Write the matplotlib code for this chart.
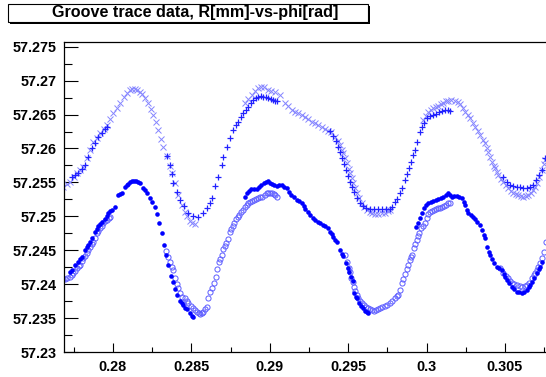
import matplotlib
matplotlib.use("Agg")
import matplotlib.pyplot as plt
from matplotlib.ticker import FixedLocator, FixedFormatter, MultipleLocator
from matplotlib.patches import Rectangle

title_text = "Groove trace data, R[mm]-vs-phi[rad]"

x_ticks = [0.28, 0.285, 0.29, 0.295, 0.30, 0.305]
x_tick_labels = ["0.28", "0.285", "0.29", "0.295", "0.3", "0.305"]
y_ticks = [57.23, 57.235, 57.24, 57.245, 57.25, 57.255, 57.26, 57.265, 57.27, 57.275]
y_tick_labels = ["57.23", "57.235", "57.24", "57.245", "57.25", "57.255",
                 "57.26", "57.265", "57.27", "57.275"]
x_range = [0.27685, 0.30762]
y_range = [57.23, 57.2757]

# upper trace, pass A (light 'x' markers)
phi_a_up = [0.27684, 0.27710, 0.27729, 0.27754, 0.27773, 0.27792, 0.27811, 0.27837, 0.27856, 0.27875,
            0.27901, 0.27920, 0.27945, 0.27964, 0.27983, 0.28003, 0.28028, 0.28047, 0.28073, 0.28092,
            0.28111, 0.28124, 0.28143, 0.28155, 0.28175, 0.28187, 0.28206, 0.28225, 0.28245, 0.28257,
            0.28276, 0.28289, 0.28308, 0.28321, 0.28346, 0.28366, 0.28378, 0.28397, 0.28417, 0.28442,
            0.28461, 0.28474, 0.28493, 0.28506, 0.28525,
            0.28843, 0.28862, 0.28888, 0.28907, 0.28926, 0.28945, 0.28964, 0.28990, 0.29009, 0.29034,
            0.29066, 0.29098, 0.29117, 0.29143, 0.29162, 0.29181, 0.29206, 0.29225, 0.29245, 0.29270,
            0.29289, 0.29308, 0.29334, 0.29353, 0.29372, 0.29391, 0.29417, 0.29436, 0.29448, 0.29461,
            0.29468, 0.29480, 0.29493, 0.29506, 0.29512, 0.29525, 0.29531, 0.29544, 0.29557, 0.29569,
            0.29589, 0.29601, 0.29620, 0.29639, 0.29652, 0.29671, 0.29690, 0.29716, 0.29735, 0.29754,
            0.29767,
            0.29977, 0.29996, 0.30009, 0.30028, 0.30041, 0.30060, 0.30073, 0.30092, 0.30104, 0.30124,
            0.30136, 0.30155, 0.30181, 0.30200, 0.30213, 0.30232, 0.30245, 0.30264, 0.30276, 0.30296,
            0.30308, 0.30327, 0.30340, 0.30359, 0.30372, 0.30385, 0.30391, 0.30404, 0.30417, 0.30429,
            0.30436, 0.30448, 0.30455, 0.30474, 0.30487, 0.30506, 0.30518, 0.30538, 0.30550, 0.30569,
            0.30582, 0.30601, 0.30614, 0.30633, 0.30646, 0.30665, 0.30678, 0.30690, 0.30703, 0.30716,
            0.30735, 0.30748, 0.30754]
r_a_up = [57.2543, 57.2548, 57.2551, 57.2558, 57.2564, 57.2568, 57.2573, 57.2586, 57.2598, 57.2610,
          57.2616, 57.2623, 57.2629, 57.2635, 57.2644, 57.2653, 57.2660, 57.2667, 57.2676, 57.2682,
          57.2686, 57.2688, 57.2688, 57.2686, 57.2684, 57.2681, 57.2675, 57.2667, 57.2658, 57.2650,
          57.2639, 57.2627, 57.2614, 57.2602, 57.2589, 57.2574, 57.2564, 57.2549, 57.2532, 57.2517,
          57.2507, 57.2501, 57.2493, 57.2490, 57.2489,
          57.2667, 57.2673, 57.2679, 57.2685, 57.2689, 57.2691, 57.2691, 57.2686, 57.2685, 57.2684,
          57.2679, 57.2667, 57.2663, 57.2657, 57.2654, 57.2653, 57.2650, 57.2647, 57.2644, 57.2639,
          57.2638, 57.2635, 57.2632, 57.2629, 57.2626, 57.2625, 57.2617, 57.2611, 57.2605, 57.2598,
          57.2594, 57.2586, 57.2579, 57.2570, 57.2564, 57.2557, 57.2549, 57.2542, 57.2535, 57.2527,
          57.2520, 57.2514, 57.2509, 57.2507, 57.2505, 57.2504, 57.2504, 57.2505, 57.2505, 57.2508,
          57.2509,
          57.2642, 57.2648, 57.2654, 57.2657, 57.2660, 57.2661, 57.2663, 57.2666, 57.2667, 57.2670,
          57.2670, 57.2672, 57.2670, 57.2669, 57.2666, 57.2660, 57.2654, 57.2650, 57.2645, 57.2638,
          57.2632, 57.2626, 57.2620, 57.2613, 57.2608, 57.2601, 57.2595, 57.2588, 57.2580, 57.2574,
          57.2571, 57.2566, 57.2561, 57.2555, 57.2551, 57.2546, 57.2542, 57.2537, 57.2535, 57.2533,
          57.2532, 57.2530, 57.2529, 57.2530, 57.2532, 57.2535, 57.2539, 57.2543, 57.2549, 57.2558,
          57.2568, 57.2577, 57.2583]

# upper trace, pass B ('+' markers)
phi_b_up = [0.27741, 0.27761, 0.27780, 0.27805, 0.27824, 0.27843, 0.27869, 0.27888, 0.27907, 0.27932,
            0.27952, 0.27964,
            0.28346, 0.28366, 0.28378, 0.28385, 0.28410, 0.28429, 0.28455, 0.28480, 0.28512, 0.28544,
            0.28576, 0.28601, 0.28620, 0.28633, 0.28652, 0.28671, 0.28697, 0.28703, 0.28729, 0.28748,
            0.28767, 0.28786, 0.28799, 0.28818, 0.28831, 0.28850, 0.28862, 0.28882, 0.28894, 0.28913,
            0.28926, 0.28945, 0.28958, 0.28977, 0.28990, 0.29009, 0.29022, 0.29034, 0.29047,
            0.29385, 0.29404, 0.29423, 0.29436, 0.29448, 0.29461, 0.29474, 0.29487, 0.29499, 0.29512,
            0.29525, 0.29538, 0.29557, 0.29576, 0.29595, 0.29614, 0.29639, 0.29665, 0.29690, 0.29716,
            0.29741, 0.29767, 0.29780, 0.29799, 0.29811, 0.29831, 0.29843, 0.29862, 0.29875, 0.29888,
            0.29901, 0.29913, 0.29926, 0.29939, 0.29958, 0.29971, 0.29983, 0.30003, 0.30022, 0.30041,
            0.30060, 0.30079, 0.30098, 0.30117, 0.30136, 0.30149,
            0.30487, 0.30512, 0.30531, 0.30550, 0.30576, 0.30595, 0.30614, 0.30640, 0.30659, 0.30678,
            0.30697, 0.30716, 0.30735, 0.30754]
r_b_up = [57.2558, 57.2561, 57.2564, 57.2570, 57.2576, 57.2588, 57.2601, 57.2608, 57.2617, 57.2623,
          57.2629, 57.2632,
          57.2589, 57.2576, 57.2563, 57.2549, 57.2536, 57.2524, 57.2515, 57.2505, 57.2501, 57.2499,
          57.2505, 57.2512, 57.2520, 57.2527, 57.2545, 57.2558, 57.2576, 57.2588, 57.2602, 57.2616,
          57.2627, 57.2635, 57.2639, 57.2647, 57.2653, 57.2657, 57.2661, 57.2667, 57.2672, 57.2675,
          57.2676, 57.2678, 57.2676, 57.2676, 57.2675, 57.2673, 57.2672, 57.2670, 57.2670,
          57.2626, 57.2619, 57.2611, 57.2602, 57.2595, 57.2586, 57.2577, 57.2568, 57.2560, 57.2551,
          57.2543, 57.2536, 57.2527, 57.2520, 57.2515, 57.2512, 57.2511, 57.2511, 57.2511, 57.2511,
          57.2511, 57.2511, 57.2514, 57.2521, 57.2526, 57.2535, 57.2542, 57.2554, 57.2563, 57.2571,
          57.2580, 57.2591, 57.2598, 57.2610, 57.2625, 57.2632, 57.2638, 57.2645, 57.2648, 57.2650,
          57.2651, 57.2654, 57.2655, 57.2657, 57.2657, 57.2655,
          57.2558, 57.2551, 57.2546, 57.2545, 57.2543, 57.2543, 57.2542, 57.2542, 57.2543, 57.2546,
          57.2554, 57.2561, 57.2568, 57.2586]

# lower trace, pass A (filled circles)
phi_a_lo = [0.27729, 0.27741, 0.27761, 0.27780, 0.27792, 0.27805, 0.27824, 0.27837, 0.27843, 0.27856,
            0.27869, 0.27888, 0.27901, 0.27907, 0.27920, 0.27932, 0.27952, 0.27964, 0.27971, 0.27983,
            0.27996, 0.28015, 0.28034, 0.28047, 0.28060, 0.28079, 0.28092, 0.28098, 0.28111, 0.28124,
            0.28136, 0.28149, 0.28162, 0.28175, 0.28194, 0.28206, 0.28219, 0.28238, 0.28251, 0.28270,
            0.28283, 0.28296, 0.28315, 0.28327, 0.28340, 0.28353, 0.28372, 0.28385, 0.28397, 0.28410,
            0.28429, 0.28442, 0.28448, 0.28461, 0.28474, 0.28493, 0.28506, 0.28512,
            0.28843, 0.28856, 0.28869, 0.28882, 0.28901, 0.28920, 0.28932, 0.28945, 0.28964, 0.28977,
            0.28990, 0.29003, 0.29015, 0.29028, 0.29047, 0.29060, 0.29079, 0.29092, 0.29111, 0.29124,
            0.29136, 0.29155, 0.29175, 0.29187, 0.29206, 0.29219, 0.29225, 0.29245, 0.29257, 0.29276,
            0.29289, 0.29308, 0.29321, 0.29340, 0.29353, 0.29372, 0.29385, 0.29397, 0.29404, 0.29417,
            0.29429, 0.29448, 0.29461, 0.29468, 0.29487, 0.29499, 0.29506, 0.29518, 0.29531, 0.29538,
            0.29550, 0.29557, 0.29569, 0.29582, 0.29595, 0.29608, 0.29620, 0.29627,
            0.29932, 0.29945, 0.29958, 0.29971, 0.29983, 0.29996, 0.30009, 0.30028, 0.30041, 0.30060,
            0.30073, 0.30092, 0.30104, 0.30124, 0.30136, 0.30149, 0.30162, 0.30175, 0.30194, 0.30206,
            0.30226, 0.30238, 0.30245, 0.30257, 0.30264, 0.30283, 0.30296, 0.30308, 0.30321, 0.30340,
            0.30353, 0.30366, 0.30372, 0.30385, 0.30397, 0.30404, 0.30417, 0.30429, 0.30448, 0.30461,
            0.30480, 0.30493, 0.30499, 0.30512, 0.30525, 0.30544, 0.30557, 0.30576, 0.30589, 0.30608,
            0.30620, 0.30640, 0.30652, 0.30659, 0.30671, 0.30684, 0.30703, 0.30716, 0.30722, 0.30735]
r_a_lo = [57.2418, 57.2421, 57.2428, 57.2433, 57.2437, 57.2440, 57.2450, 57.2455, 57.2458, 57.2462,
          57.2468, 57.2477, 57.2481, 57.2486, 57.2489, 57.2492, 57.2496, 57.2501, 57.2505, 57.2508,
          57.2509, 57.2514, 57.2532, 57.2533, 57.2535, 57.2543, 57.2546, 57.2548, 57.2551, 57.2552,
          57.2552, 57.2552, 57.2551, 57.2549, 57.2542, 57.2539, 57.2535, 57.2527, 57.2521, 57.2514,
          57.2504, 57.2490, 57.2476, 57.2458, 57.2443, 57.2428, 57.2412, 57.2403, 57.2393, 57.2384,
          57.2375, 57.2372, 57.2369, 57.2365, 57.2363, 57.2358, 57.2353, 57.2352,
          57.2529, 57.2535, 57.2537, 57.2540, 57.2540, 57.2540, 57.2543, 57.2546, 57.2549, 57.2551,
          57.2552, 57.2549, 57.2548, 57.2546, 57.2545, 57.2546, 57.2546, 57.2543, 57.2542, 57.2536,
          57.2532, 57.2529, 57.2524, 57.2523, 57.2520, 57.2515, 57.2511, 57.2507, 57.2502, 57.2498,
          57.2495, 57.2492, 57.2490, 57.2487, 57.2486, 57.2483, 57.2477, 57.2474, 57.2470, 57.2465,
          57.2462, 57.2450, 57.2445, 57.2442, 57.2431, 57.2424, 57.2418, 57.2411, 57.2405, 57.2387,
          57.2381, 57.2380, 57.2372, 57.2368, 57.2365, 57.2360, 57.2359, 57.2358,
          57.2484, 57.2490, 57.2498, 57.2505, 57.2512, 57.2517, 57.2520, 57.2521, 57.2523, 57.2524,
          57.2526, 57.2527, 57.2529, 57.2532, 57.2535, 57.2532, 57.2529, 57.2530, 57.2530, 57.2529,
          57.2527, 57.2521, 57.2517, 57.2509, 57.2505, 57.2502, 57.2499, 57.2496, 57.2492, 57.2487,
          57.2480, 57.2473, 57.2468, 57.2455, 57.2448, 57.2443, 57.2437, 57.2431, 57.2425, 57.2424,
          57.2421, 57.2415, 57.2411, 57.2406, 57.2402, 57.2396, 57.2393, 57.2389, 57.2389, 57.2387,
          57.2389, 57.2391, 57.2396, 57.2399, 57.2403, 57.2409, 57.2417, 57.2422, 57.2425, 57.2433]

# lower trace, pass B (open circles)
phi_b_lo = [0.27684, 0.27697, 0.27710, 0.27729, 0.27741, 0.27748, 0.27761, 0.27773, 0.27786, 0.27792,
            0.27805, 0.27811, 0.27824, 0.27837, 0.27843, 0.27856, 0.27869, 0.27875, 0.27888, 0.27901,
            0.27907, 0.27920, 0.27932, 0.27939, 0.27952, 0.27964, 0.27977, 0.27983,
            0.28340, 0.28353, 0.28366, 0.28378, 0.28385, 0.28397, 0.28410, 0.28417, 0.28429, 0.28442,
            0.28461, 0.28474, 0.28480, 0.28499, 0.28512, 0.28525, 0.28538, 0.28550, 0.28557, 0.28569,
            0.28576, 0.28589, 0.28601, 0.28608, 0.28620, 0.28633, 0.28646, 0.28659, 0.28665, 0.28678,
            0.28684, 0.28697, 0.28703, 0.28716, 0.28722, 0.28735, 0.28748, 0.28754, 0.28767, 0.28773,
            0.28786, 0.28799, 0.28805, 0.28818, 0.28831, 0.28843, 0.28856, 0.28862, 0.28875, 0.28888,
            0.28901, 0.28913, 0.28926, 0.28939, 0.28952, 0.28971, 0.28983, 0.28990, 0.29003, 0.29015,
            0.29028, 0.29034, 0.29047,
            0.29480, 0.29493, 0.29506, 0.29512, 0.29518, 0.29531, 0.29538, 0.29544, 0.29557, 0.29563,
            0.29576, 0.29589, 0.29601, 0.29614, 0.29627, 0.29639, 0.29652, 0.29665, 0.29678, 0.29690,
            0.29703, 0.29716, 0.29735, 0.29748, 0.29767, 0.29780, 0.29799, 0.29811, 0.29818, 0.29831,
            0.29843, 0.29850, 0.29862, 0.29875, 0.29882, 0.29894, 0.29901, 0.29907, 0.29920, 0.29926,
            0.29939, 0.29945, 0.29952, 0.29964, 0.29977, 0.29990, 0.30003, 0.30009, 0.30022, 0.30034,
            0.30047, 0.30060, 0.30073, 0.30085, 0.30098, 0.30111, 0.30124, 0.30136, 0.30149,
            0.30468, 0.30487, 0.30506, 0.30518, 0.30531, 0.30544, 0.30557, 0.30576, 0.30595, 0.30608,
            0.30627, 0.30640, 0.30652, 0.30671, 0.30684, 0.30690, 0.30703, 0.30710, 0.30722, 0.30735,
            0.30748, 0.30760]
r_b_lo = [57.2408, 57.2408, 57.2409, 57.2411, 57.2414, 57.2417, 57.2419, 57.2424, 57.2427, 57.2428,
          57.2434, 57.2439, 57.2442, 57.2446, 57.2450, 57.2455, 57.2459, 57.2462, 57.2468, 57.2476,
          57.2478, 57.2483, 57.2486, 57.2490, 57.2493, 57.2495, 57.2498, 57.2499,
          57.2449, 57.2440, 57.2433, 57.2425, 57.2421, 57.2409, 57.2400, 57.2394, 57.2387, 57.2381,
          57.2380, 57.2375, 57.2372, 57.2368, 57.2365, 57.2362, 57.2359, 57.2358, 57.2356, 57.2358,
          57.2359, 57.2363, 57.2366, 57.2380, 57.2389, 57.2394, 57.2402, 57.2411, 57.2422, 57.2433,
          57.2437, 57.2443, 57.2452, 57.2456, 57.2461, 57.2467, 57.2477, 57.2481, 57.2486, 57.2490,
          57.2496, 57.2499, 57.2502, 57.2507, 57.2509, 57.2514, 57.2517, 57.2520, 57.2521, 57.2523,
          57.2524, 57.2526, 57.2527, 57.2529, 57.2529, 57.2532, 57.2535, 57.2535, 57.2535, 57.2535,
          57.2533, 57.2532, 57.2529,
          57.2443, 57.2433, 57.2424, 57.2418, 57.2409, 57.2403, 57.2396, 57.2390, 57.2384, 57.2380,
          57.2375, 57.2372, 57.2369, 57.2366, 57.2365, 57.2363, 57.2362, 57.2360, 57.2362, 57.2363,
          57.2365, 57.2366, 57.2368, 57.2369, 57.2372, 57.2375, 57.2380, 57.2383, 57.2384, 57.2391,
          57.2402, 57.2408, 57.2415, 57.2422, 57.2428, 57.2436, 57.2440, 57.2443, 57.2453, 57.2459,
          57.2465, 57.2471, 57.2476, 57.2483, 57.2486, 57.2490, 57.2498, 57.2504, 57.2507, 57.2508,
          57.2509, 57.2511, 57.2512, 57.2512, 57.2514, 57.2515, 57.2517, 57.2520, 57.2520,
          57.2424, 57.2417, 57.2412, 57.2409, 57.2405, 57.2402, 57.2400, 57.2399, 57.2397, 57.2396,
          57.2397, 57.2399, 57.2402, 57.2409, 57.2414, 57.2417, 57.2421, 57.2425, 57.2431, 57.2439,
          57.2448, 57.2462]

W, H = 546, 377
fig = plt.figure(figsize=(W / 100, H / 100), dpi=100)
fig.patch.set_facecolor("white")
font = ["Liberation Sans", "DejaVu Sans"]

ax = fig.add_axes([63.5 / W, 1 - 352 / H, (W - 63.5) / W, (352 - 42) / H])
ax.set_xlim(*x_range)
ax.set_ylim(*y_range)

ax.plot(phi_a_up, r_a_up, linestyle="none", marker="x", ms=4.0, mew=0.7,
        color="#8585ff", clip_on=True)
ax.plot(phi_b_lo, r_b_lo, linestyle="none", marker="o", ms=3.7, mew=0.7,
        mfc="none", mec="#5c5cff", clip_on=True)
ax.plot(phi_b_up, r_b_up, linestyle="none", marker="+", ms=5.0, mew=0.9,
        color="#2222ff", clip_on=True)
ax.plot(phi_a_lo, r_a_lo, linestyle="none", marker="o", ms=3.3, mew=0,
        mfc="#0000ff", mec="#0000ff", clip_on=True)

ax.xaxis.set_major_locator(FixedLocator(x_ticks))
ax.xaxis.set_major_formatter(FixedFormatter(x_tick_labels))
ax.xaxis.set_minor_locator(MultipleLocator(0.0025))
ax.yaxis.set_major_locator(FixedLocator(y_ticks))
ax.yaxis.set_major_formatter(FixedFormatter(y_tick_labels))
ax.yaxis.set_minor_locator(MultipleLocator(0.0025))

ax.tick_params(axis="x", which="major", direction="in", length=6.5, width=0.8,
               pad=6, labelsize=10.4, colors="black")
ax.tick_params(axis="x", which="minor", direction="in", length=3.3, width=0.8)
ax.tick_params(axis="y", which="major", direction="in", length=10, width=0.8,
               pad=5, labelsize=10.4, colors="black")
ax.tick_params(axis="y", which="minor", direction="in", length=5.5, width=0.8)
ax.tick_params(top=False, right=False, which="both")
for lab in ax.get_xticklabels() + ax.get_yticklabels():
    lab.set_fontfamily(font)
    lab.set_fontweight("bold")

for side in ["left", "bottom", "top"]:
    ax.spines[side].set_linewidth(0.9)
    ax.spines[side].set_color("black")
ax.spines["right"].set_visible(False)

# title box with shadow (ROOT style)
bx0, by0, bx1, by1 = 8, 3.5, 368, 21.5
fig.patches.append(Rectangle(((bx0 + 2) / W, 1 - (by1 + 2) / H), (bx1 - bx0) / W, (by1 - by0) / H,
                             transform=fig.transFigure, facecolor="black", edgecolor="none"))
fig.patches.append(Rectangle((bx0 / W, 1 - by1 / H), (bx1 - bx0) / W, (by1 - by0) / H,
                             transform=fig.transFigure, facecolor="white", edgecolor="black",
                             linewidth=0.8))
fig.text(195 / W, 1 - 13 / H, title_text, ha="center", va="center", fontsize=11.6,
         fontweight="bold", family=font, color="black")

fig.savefig("out.png", dpi=100)
